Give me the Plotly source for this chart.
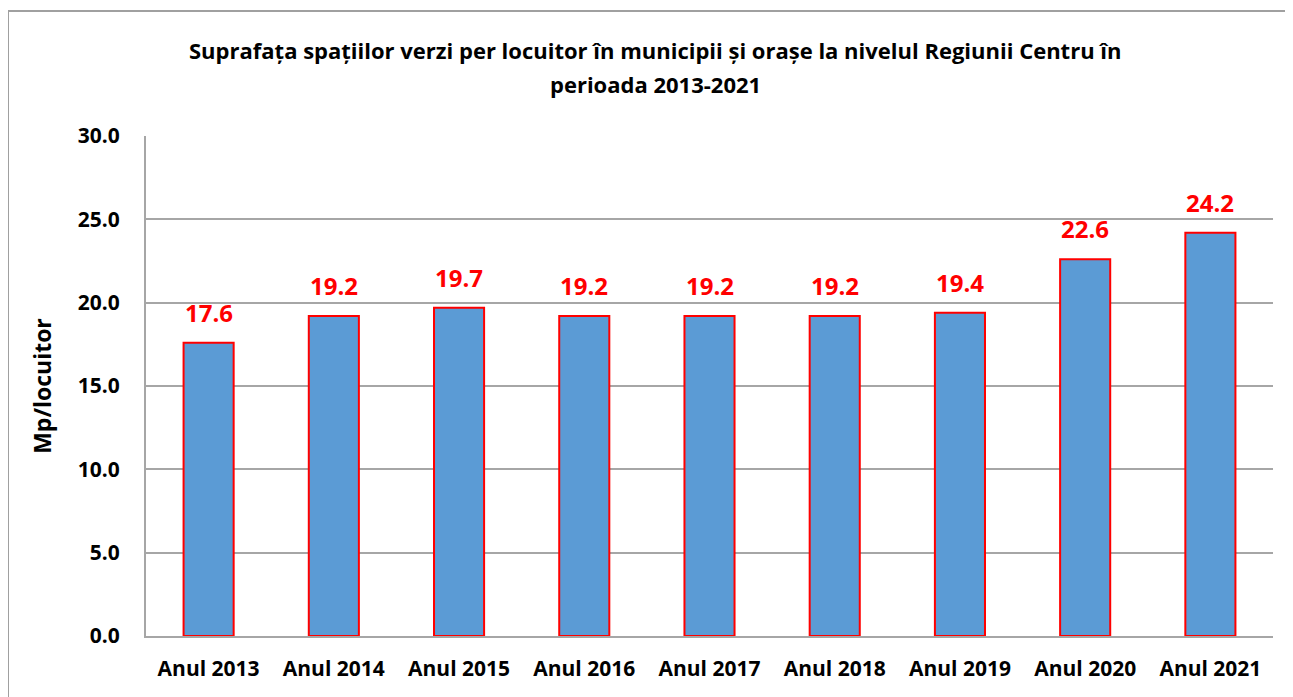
import plotly.graph_objects as go

categories = ["Anul 2013", "Anul 2014", "Anul 2015", "Anul 2016", "Anul 2017",
              "Anul 2018", "Anul 2019", "Anul 2020", "Anul 2021"]
values = [17.6, 19.2, 19.7, 19.2, 19.2, 19.2, 19.4, 22.6, 24.2]
tick_vals = [0, 5, 10, 15, 20, 25, 30]
tick_text = ["0.0", "5.0", "10.0", "15.0", "20.0", "25.0", "30.0"]
title_lines = ["Suprafața spațiilor verzi per locuitor în municipii și orașe la nivelul Regiunii Centru în",
               "perioada 2013-2021"]

FONT = "'Open Sans', Lato, sans-serif"

# page body has an ~8px margin; figure coordinates are offset accordingly
W, H = 1285, 689
L, R, T, B = 138, 20, 128, 61
pw, ph = W - L - R, H - T - B

fig = go.Figure()
fig.add_trace(go.Bar(
    x=categories, y=values,
    marker=dict(color="#5B9BD5", line=dict(color="#FF0000", width=2)),
    hoverinfo="x+y",
))

for c, v in zip(categories, values):
    fig.add_annotation(
        x=c, y=v, xref="x", yref="y", text=f"{v:.1f}", showarrow=False,
        yanchor="bottom", yshift=12,
        font=dict(family=FONT, size=24, color="#FF0000", weight="bold"),
    )

title_centers_px = [42, 76]
for line, ypx in zip(title_lines, title_centers_px):
    fig.add_annotation(
        x=(647 - L) / pw, y=(H - B - ypx) / ph, xref="paper", yref="paper",
        text=line, showarrow=False, xanchor="center", yanchor="middle",
        font=dict(family=FONT, size=22, color="black", weight="bold"),
    )

fig.update_layout(
    width=W, height=H,
    margin=dict(l=L, r=R, t=T, b=B, autoexpand=False),
    paper_bgcolor="white", plot_bgcolor="white",
    bargap=0.6,
    showlegend=False,
    font=dict(family=FONT, color="black"),
    shapes=[dict(
        type="rect", xref="paper", yref="paper",
        x0=(0 - L) / pw, x1=(W + 10 - L) / pw,
        y0=-(B + 10) / ph, y1=(H - B - 3) / ph,
        line=dict(color="#A0A0A0", width=2), fillcolor="rgba(0,0,0,0)", layer="below",
    )],
)
fig.update_xaxes(
    automargin=False,
    showline=True, linecolor="#A6A6A6", linewidth=2,
    tickfont=dict(family=FONT, size=21, color="black", weight="bold"),
    ticks="", ticklabelstandoff=13,
)
fig.update_yaxes(
    automargin=False,
    range=[0, 30], tickvals=tick_vals, ticktext=tick_text,
    showline=True, linecolor="#A6A6A6", linewidth=2,
    showgrid=True, gridcolor="#A6A6A6", gridwidth=1.5,
    zeroline=False,
    tickfont=dict(family=FONT, size=21, color="black", weight="bold"),
    ticks="", ticklabelstandoff=20,
    title=dict(text="Mp/locuitor", standoff=20,
               font=dict(family=FONT, size=23, color="black", weight="bold")),
)

fig.write_html("out.html")
